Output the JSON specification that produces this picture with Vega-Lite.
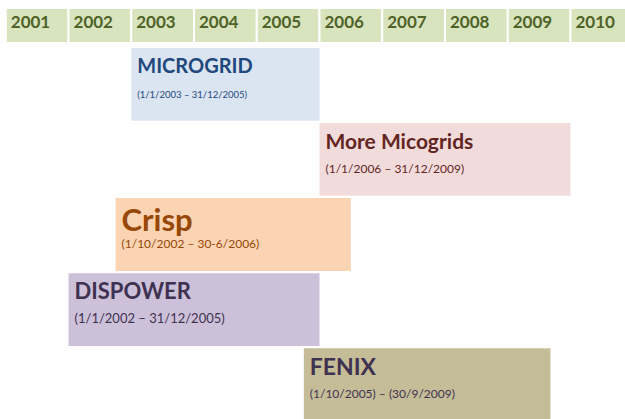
{
  "$schema": "https://vega.github.io/schema/vega-lite/v6.json",
  "padding": {"top": 7, "left": 0, "right": 0, "bottom": 0},
  "background": "white",
  "spacing": 4,
  "config": {"view": {"stroke": null}, "text": {"font": "Lato"}},
  "datasets": {
    "years": [
      {"year": 2001, "yearEnd": 2002, "label": "2001"},
      {"year": 2002, "yearEnd": 2003, "label": "2002"},
      {"year": 2003, "yearEnd": 2004, "label": "2003"},
      {"year": 2004, "yearEnd": 2005, "label": "2004"},
      {"year": 2005, "yearEnd": 2006, "label": "2005"},
      {"year": 2006, "yearEnd": 2007, "label": "2006"},
      {"year": 2007, "yearEnd": 2008, "label": "2007"},
      {"year": 2008, "yearEnd": 2009, "label": "2008"},
      {"year": 2009, "yearEnd": 2010, "label": "2009"},
      {"year": 2010, "yearEnd": 2011, "label": "2010"}
    ],
    "projects": [
      {"name": "MICROGRID", "start": 2003.0, "end": 2006.0, "dates": "(1/1/2003  – 31/12/2005)"},
      {"name": "More Micogrids", "start": 2006.0, "end": 2010.0, "dates": "(1/1/2006 – 31/12/2009)"},
      {"name": "Crisp", "start": 2002.75, "end": 2006.5, "dates": "(1/10/2002 – 30-6/2006)"},
      {"name": "DISPOWER", "start": 2002.0, "end": 2006.0, "dates": "(1/1/2002 – 31/12/2005)"},
      {"name": "FENIX", "start": 2005.75, "end": 2009.68, "dates": "(1/10/2005) – (30/9/2009)"}
    ]
  },
  "vconcat": [
    {
      "width": 625,
      "height": 35,
      "data": {"name": "years"},
      "layer": [
        {
          "mark": {"type": "rect", "fill": "#d7e4bd", "stroke": "white", "strokeWidth": 2},
          "encoding": {
            "x": {"field": "year", "type": "quantitative", "scale": {"domain": [2000.908, 2010.869], "nice": false, "zero": false}, "axis": null},
            "x2": {"field": "yearEnd"}
          }
        },
        {
          "mark": {"type": "text", "align": "left", "baseline": "middle", "dx": 5, "dy": -3, "fontSize": 17, "fontWeight": "bold", "color": "#4f6228"},
          "encoding": {
            "x": {"field": "year", "type": "quantitative", "scale": {"domain": [2000.908, 2010.869], "nice": false, "zero": false}, "axis": null},
            "text": {"field": "label"}
          }
        }
      ]
    },
    {
      "width": 625,
      "height": 373,
      "data": {"name": "projects"},
      "layer": [
        {
          "mark": {"type": "bar"},
          "encoding": {
            "x": {"field": "start", "type": "quantitative", "scale": {"domain": [2000.908, 2010.869], "nice": false, "zero": false}, "axis": null},
            "x2": {"field": "end"},
            "y": {"field": "name", "type": "nominal", "sort": null, "scale": {"paddingInner": 0.03, "paddingOuter": 0}, "axis": null},
            "fill": {"field": "name", "type": "nominal", "legend": null,
              "scale": {"domain": ["MICROGRID", "More Micogrids", "Crisp", "DISPOWER", "FENIX"], "range": ["#dbe5f1", "#f2dcdb", "#fbd4b4", "#ccc1d9", "#c4bd97"]}}
          }
        },
        {
          "mark": {"type": "text", "align": "left", "baseline": "top", "dx": 6, "dy": 9, "fontWeight": "bold"},
          "encoding": {
            "x": {"field": "start", "type": "quantitative", "scale": {"domain": [2000.908, 2010.869], "nice": false, "zero": false}, "axis": null},
            "y": {"field": "name", "type": "nominal", "sort": null, "bandPosition": 0, "axis": null},
            "text": {"field": "name"},
            "color": {"field": "name", "type": "nominal", "legend": null,
              "scale": {"domain": ["MICROGRID", "More Micogrids", "Crisp", "DISPOWER", "FENIX"], "range": ["#1f497d", "#632523", "#974806", "#3f3151", "#3f3151"]}},
            "size": {"condition": [
              {"test": "datum.name === 'Crisp'", "value": 31},
              {"test": "datum.name === 'MICROGRID'", "value": 20},
              {"test": "datum.name === 'DISPOWER'", "value": 22},
              {"test": "datum.name === 'FENIX'", "value": 23}
            ], "value": 21}
          }
        },
        {
          "mark": {"type": "text", "align": "left", "baseline": "alphabetic", "dx": 6, "dy": 50},
          "encoding": {
            "x": {"field": "start", "type": "quantitative", "scale": {"domain": [2000.908, 2010.869], "nice": false, "zero": false}, "axis": null},
            "y": {"field": "name", "type": "nominal", "sort": null, "bandPosition": 0, "axis": null},
            "text": {"field": "dates"},
            "color": {"field": "name", "type": "nominal", "legend": null},
            "size": {"condition": [
              {"test": "datum.name === 'MICROGRID'", "value": 9.5},
              {"test": "datum.name === 'DISPOWER'", "value": 13}
            ], "value": 12}
          }
        }
      ]
    }
  ]
}
